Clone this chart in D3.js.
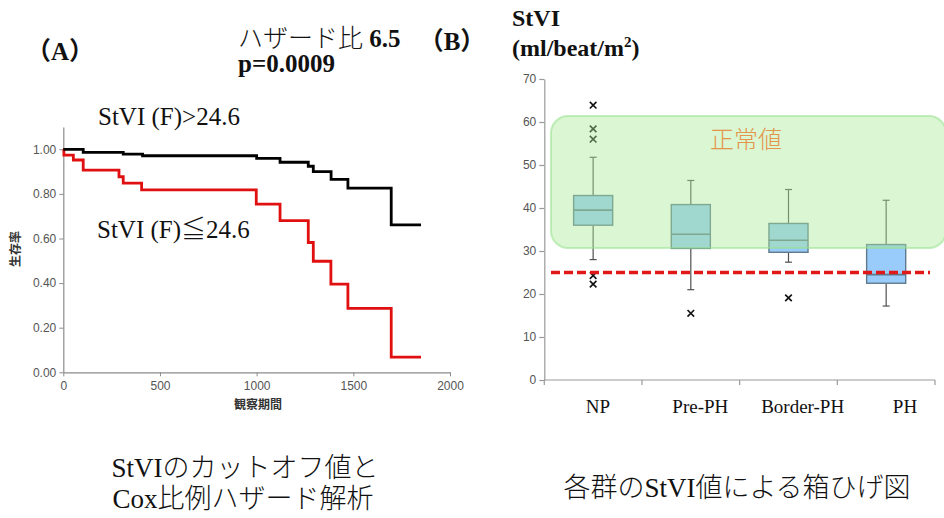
<!DOCTYPE html>
<html>
<head>
<meta charset="utf-8">
<script src="https://cdn.jsdelivr.net/npm/d3@7"></script>
<style>
  html, body { margin: 0; padding: 0; background: #fff; }
  svg { display: block; }
  .serif { font-family: "Liberation Serif", "Noto Sans CJK JP", serif; }
  .sans { font-family: "Liberation Sans", "Noto Sans CJK JP", sans-serif; }
</style>
</head>
<body>
<svg id="chart" width="944" height="518"></svg>
<script>
// ---- (A) Kaplan–Meier survival curves ----
const highTimes = [0, 103, 310, 410, 1000, 1121, 1267, 1293, 1385, 1472, 1696, 1850];
const highSurv  = [1.00, 0.986, 0.978, 0.971, 0.959, 0.942, 0.924, 0.900, 0.865, 0.826, 0.661, 0.661];
const lowTimes  = [0, 3, 52, 103, 288, 310, 405, 998, 1121, 1267, 1293, 1384, 1472, 1696, 1850];
const lowSurv   = [1.00, 0.974, 0.952, 0.907, 0.877, 0.848, 0.818, 0.754, 0.680, 0.582, 0.498, 0.395, 0.287, 0.068, 0.068];
const kmXTicks = [0, 500, 1000, 1500, 2000];
const kmYTicks = [0, 0.2, 0.4, 0.6, 0.8, 1.0];

// ---- (B) StVI box plots by group ----
const groups   = ["NP", "Pre-PH", "Border-PH", "PH"];
const whiskLo  = [28.0, 21.0, 27.4, 17.2];
const q1       = [36.0, 30.6, 29.7, 22.5];
const median   = [39.5, 33.9, 32.5, 24.5];
const q3       = [42.9, 40.8, 36.4, 31.5];
const whiskHi  = [51.8, 46.4, 44.3, 41.8];
const outliers = [[63.9, 58.4, 56.0, 24.3, 22.3], [15.5], [19.1], []];
const normalRange = [30.7, 61.4];
const cutoff = 25;
const boxYTicks = [0, 10, 20, 30, 40, 50, 60, 70];

const svg = d3.select("#chart");

// ===== Panel A =====
const xA = d3.scaleLinear().domain([0, 2000]).range([63.3, 450]);
const yA = d3.scaleLinear().domain([0, 1.1]).range([372.3, 127]);

const axA = svg.append("g").attr("class", "sans");
const xAxisA = axA.append("g")
  .attr("transform", `translate(0,${yA(0)})`)
  .call(d3.axisBottom(xA).tickValues(kmXTicks).tickSize(4).tickSizeOuter(0).tickFormat(d3.format("d")));
const yAxisA = axA.append("g")
  .attr("transform", `translate(${xA(0)},0)`)
  .call(d3.axisLeft(yA).tickValues(kmYTicks).tickSize(4).tickSizeOuter(0).tickFormat(d3.format(".2f")));
[xAxisA, yAxisA].forEach(g => {
  g.select(".domain").attr("stroke", "#8c8c8c").attr("stroke-width", 1.2);
  g.selectAll(".tick line").attr("stroke", "#8c8c8c");
  g.selectAll(".tick text").attr("fill", "#555").attr("font-size", 12)
    .attr("font-family", "Liberation Sans, sans-serif");
});
xAxisA.selectAll(".tick text").attr("dy", "0.9em");

axA.append("text")
  .attr("x", 258).attr("y", 409)
  .attr("text-anchor", "middle")
  .attr("font-size", 12).attr("font-weight", "bold").attr("fill", "#333")
  .text("観察期間");
axA.append("text")
  .attr("transform", "translate(20,249) rotate(-90)")
  .attr("text-anchor", "middle")
  .attr("font-size", 12).attr("font-weight", "bold").attr("fill", "#333")
  .text("生存率");

const stepLine = d3.line()
  .x(d => xA(d[0])).y(d => yA(d[1]))
  .curve(d3.curveStepAfter);

svg.append("path")
  .datum(d3.zip(lowTimes, lowSurv))
  .attr("d", stepLine)
  .attr("fill", "none").attr("stroke", "#e01010").attr("stroke-width", 2.8);
svg.append("path")
  .datum(d3.zip(highTimes, highSurv))
  .attr("d", stepLine)
  .attr("fill", "none").attr("stroke", "#000").attr("stroke-width", 2.8);

svg.append("text").attr("class", "serif")
  .attr("x", 98).attr("y", 125).attr("font-size", 25).attr("fill", "#111")
  .text("StVI (F)>24.6");
svg.append("text").attr("class", "serif")
  .attr("x", 97).attr("y", 238).attr("font-size", 25).attr("fill", "#111")
  .attr("font-weight", 300)
  .text("StVI (F)≦24.6");

// Panel headings
svg.append("text").attr("class", "serif")
  .attr("x", 60).attr("y", 60).attr("text-anchor", "middle")
  .attr("font-size", 25).attr("font-weight", "bold").attr("fill", "#111")
  .text("（A）");
const hz = svg.append("text").attr("class", "serif")
  .attr("x", 238).attr("y", 47).attr("font-size", 25).attr("fill", "#111");
hz.append("tspan").attr("font-weight", 300).text("ハザード比");
hz.append("tspan").attr("font-weight", "bold").text(" 6.5");
svg.append("text").attr("class", "serif")
  .attr("x", 238).attr("y", 72).attr("font-size", 25).attr("font-weight", "bold").attr("fill", "#111")
  .text("p=0.0009");
svg.append("text").attr("class", "serif")
  .attr("x", 452).attr("y", 50).attr("text-anchor", "middle")
  .attr("font-size", 25).attr("font-weight", "bold").attr("fill", "#111")
  .text("（B）");

// ===== Panel B =====
const yB = d3.scaleLinear().domain([0, 70]).range([380, 79]);
const xB = d3.scaleBand().domain(groups).range([544.3, 935]);
const xLab = d3.scalePoint().domain(groups).range([598, 905]);
const boxW = xB.bandwidth() * 0.4;

svg.append("text").attr("class", "serif")
  .attr("x", 512).attr("y", 26).attr("font-size", 24).attr("font-weight", "bold").attr("fill", "#111")
  .text("StVI");
const unit = svg.append("text").attr("class", "serif")
  .attr("x", 512).attr("y", 56).attr("font-size", 24).attr("font-weight", "bold").attr("fill", "#111");
unit.append("tspan").text("(ml/beat/m");
unit.append("tspan").attr("font-size", 15).attr("dy", -9).text("2");
unit.append("tspan").attr("dy", 9).text(")");

const axB = svg.append("g");
const yAxisB = axB.append("g")
  .attr("transform", `translate(${xB.range()[0]},0)`)
  .call(d3.axisLeft(yB).tickValues(boxYTicks).tickSize(5).tickSizeOuter(0));
yAxisB.selectAll(".tick text").attr("fill", "#555").attr("font-size", 12)
  .attr("font-family", "Liberation Sans, sans-serif");
// category axis with ticks at band boundaries
const bounds = groups.map(g => xB(g)).concat([xB.range()[1]]);
const xAxisB = axB.append("g");
xAxisB.append("line")
  .attr("x1", bounds[0]).attr("x2", bounds[bounds.length - 1])
  .attr("y1", yB(0)).attr("y2", yB(0));
xAxisB.selectAll("line.tk").data(bounds).join("line").attr("class", "tk")
  .attr("x1", d => d).attr("x2", d => d)
  .attr("y1", yB(0)).attr("y2", yB(0) + 5);
axB.selectAll("line, path.domain").attr("stroke", "#9a9a9a").attr("stroke-width", 1.2);
yAxisB.selectAll(".tick line").attr("stroke", "#9a9a9a");

svg.append("g").attr("class", "serif")
  .selectAll("text").data(groups).join("text")
  .attr("x", d => xLab(d)).attr("y", 413)
  .attr("text-anchor", "middle").attr("font-size", 19).attr("fill", "#111")
  .text(d => d);

// boxes
const boxes = svg.append("g");
groups.forEach((g, i) => {
  const cx = xB(g) + xB.bandwidth() / 2;
  const gg = boxes.append("g");
  gg.append("line").attr("x1", cx).attr("x2", cx)
    .attr("y1", yB(whiskHi[i])).attr("y2", yB(q3[i]))
    .attr("stroke", "#505050").attr("stroke-width", 1.2);
  gg.append("line").attr("x1", cx).attr("x2", cx)
    .attr("y1", yB(q1[i])).attr("y2", yB(whiskLo[i]))
    .attr("stroke", "#505050").attr("stroke-width", 1.2);
  [whiskHi[i], whiskLo[i]].forEach(v => {
    gg.append("line").attr("x1", cx - 3.5).attr("x2", cx + 3.5)
      .attr("y1", yB(v)).attr("y2", yB(v))
      .attr("stroke", "#505050").attr("stroke-width", 1.2);
  });
  gg.append("rect")
    .attr("x", cx - boxW / 2).attr("width", boxW)
    .attr("y", yB(q3[i])).attr("height", yB(q1[i]) - yB(q3[i]))
    .attr("fill", "#99ccfa").attr("stroke", "#5f7a8c").attr("stroke-width", 1.4);
  gg.append("line").attr("x1", cx - boxW / 2).attr("x2", cx + boxW / 2)
    .attr("y1", yB(median[i])).attr("y2", yB(median[i]))
    .attr("stroke", "#5f7a8c").attr("stroke-width", 1.6);
  outliers[i].forEach(v => {
    const y = yB(v), r = 3.3;
    gg.append("path")
      .attr("d", `M${cx - r},${y - r}L${cx + r},${y + r}M${cx - r},${y + r}L${cx + r},${y - r}`)
      .attr("stroke", "#111").attr("stroke-width", 1.6);
  });
});

// normal range band
svg.append("rect")
  .attr("x", 551).attr("width", 395)
  .attr("y", yB(normalRange[1])).attr("height", yB(normalRange[0]) - yB(normalRange[1]))
  .attr("rx", 17).attr("ry", 17)
  .attr("fill", "rgb(169,233,149)").attr("fill-opacity", 0.42)
  .attr("stroke", "rgb(150,225,140)").attr("stroke-opacity", 0.55).attr("stroke-width", 2);
svg.append("text")
  .attr("x", 746).attr("y", 148).attr("text-anchor", "middle")
  .attr("font-family", "Noto Sans CJK JP").attr("font-weight", 300)
  .attr("font-size", 24).attr("fill", "#e3954a")
  .text("正常値");

// cutoff line
svg.append("line")
  .attr("x1", 551).attr("x2", 930)
  .attr("y1", yB(cutoff)).attr("y2", yB(cutoff))
  .attr("stroke", "#e01818").attr("stroke-width", 3.6).attr("stroke-dasharray", "9,4");

// ===== captions =====
const caps = svg.append("g").attr("class", "serif")
  .attr("font-size", 27).attr("fill", "#111").attr("font-weight", 300)
  .attr("text-anchor", "middle");
caps.append("text").attr("x", 245).attr("y", 477).text("StVIのカットオフ値と");
caps.append("text").attr("x", 243).attr("y", 508).text("Cox比例ハザード解析");
caps.append("text").attr("x", 737).attr("y", 497).text("各群のStVI値による箱ひげ図");
</script>
</body>
</html>
